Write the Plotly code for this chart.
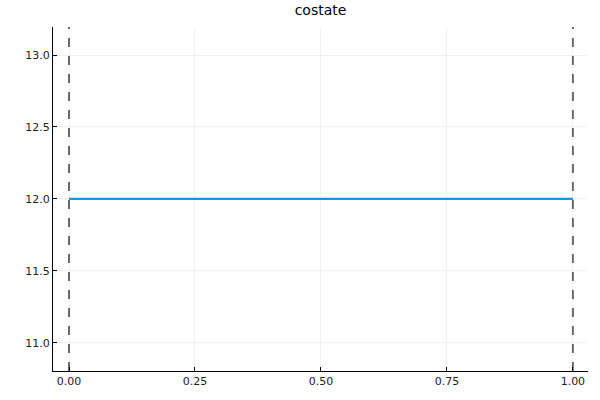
import plotly.graph_objects as go

t = [0.0, 1.0]
costate = [12.0, 12.0]
vlines_x = [0.0, 1.0]
xticks = [0.0, 0.25, 0.5, 0.75, 1.0]
xticklabels = ["0.00", "0.25", "0.50", "0.75", "1.00"]
yticks = [11.0, 11.5, 12.0, 12.5, 13.0]
yticklabels = ["11.0", "11.5", "12.0", "12.5", "13.0"]

fig = go.Figure()
for xv in vlines_x:
    fig.add_trace(go.Scatter(x=[xv, xv], y=[10.803, 13.195], mode="lines",
                             line=dict(color="rgba(90,90,90,0.9)", width=2, dash="dash"),
                             showlegend=False, hoverinfo="skip"))
fig.add_trace(go.Scatter(x=t, y=costate, mode="lines",
                         line=dict(color="#009AFA", width=2.2), showlegend=False))

axis_common = dict(showgrid=True, gridcolor="rgba(0,0,0,0.05)", gridwidth=1,
                   showline=True, linecolor="black", linewidth=1, mirror=False,
                   ticks="inside", ticklen=4, tickcolor="black", zeroline=False,
                   tickfont=dict(family="DejaVu Sans", size=11, color="#222"))
fig.update_layout(
    width=600, height=400,
    margin=dict(l=53, r=12, t=27, b=29),
    paper_bgcolor="white", plot_bgcolor="white",
    title=dict(text="costate", x=320.5 / 600, xanchor="center", y=1 - 10 / 400, yanchor="middle",
               font=dict(family="DejaVu Sans", size=14, color="black")),
    xaxis=dict(range=[-0.0318, 1.030], tickvals=xticks, ticktext=xticklabels, **axis_common),
    yaxis=dict(range=[10.803, 13.195], tickvals=yticks, ticktext=yticklabels, **axis_common),
)
fig.write_html("out.html", config={"displayModeBar": False},
               post_script="document.body.style.margin='0';")
